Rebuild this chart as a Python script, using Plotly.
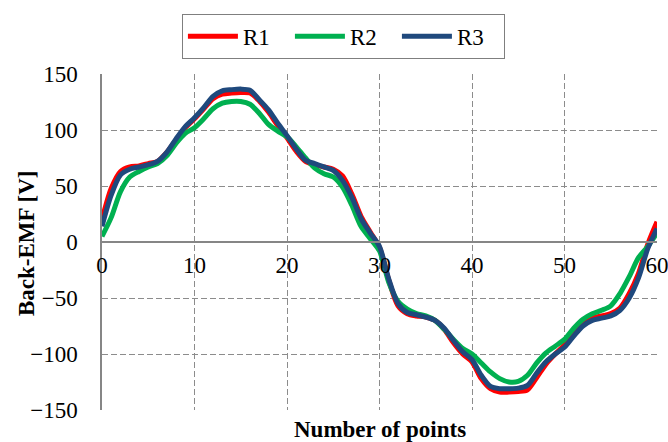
import plotly.graph_objects as go

x_points = list(range(0, 61))

r1 = [20, 48, 63, 67, 68, 70, 72, 80, 91, 102, 110, 119, 128, 132, 133, 133.5, 133, 126, 116, 104,
      93, 81, 72, 69, 67, 65, 59, 43, 23, 9, -5, -34, -57, -64, -66, -67, -70, -78, -90, -100,
      -107, -122, -131, -134, -134, -133.5, -132, -121, -109, -100, -92, -82, -73, -68, -66, -64, -59, -46, -28, -2,
      18]
r2 = [5, 22, 45, 58, 63, 67, 70, 77, 88, 97, 102, 110, 119, 124, 125.5, 125.5, 123, 115, 105, 99,
      94, 85, 75, 66, 61, 58, 49, 33, 14, 3, -8, -36, -53, -60, -64, -66, -70, -78, -87, -95,
      -100, -108, -116, -122, -125, -124.5, -119, -108, -99, -93, -87, -77, -69, -64, -61, -57, -46, -31, -14, -4,
      8]
r3 = [14, 42, 60, 65, 67, 69, 72, 80, 92, 103, 111, 120, 130, 135, 136, 136.5, 135.5, 127, 118, 106,
      95, 83, 73, 70, 67, 64, 55, 40, 21, 8, -4, -33, -55, -63, -65, -67, -70, -77, -88, -98,
      -105, -119, -129, -131, -131, -130.5, -128, -117, -107, -100, -94, -84, -75, -70, -68, -66, -61, -50, -32, -6,
      12]

series = [("R1", r1, "#FF0000"), ("R2", r2, "#00B050"), ("R3", r3, "#1F497D")]

x_ticks = [0, 10, 20, 30, 40, 50, 60]
y_ticks = [-150, -100, -50, 0, 50, 100, 150]

FONT = "Liberation Serif, Times New Roman, serif"
FS = 23

fig = go.Figure()
for name, vals, col in series:
    fig.add_trace(go.Scatter(x=x_points, y=vals, name=name, mode="lines",
                             line=dict(color=col, width=5, shape="spline", smoothing=0.8)))

fig.update_layout(
    width=668, height=442,
    margin=dict(l=102, r=11, t=74, b=32, autoexpand=False),
    paper_bgcolor="white", plot_bgcolor="white",
    font=dict(family=FONT, size=FS, color="black"),
    showlegend=True,
    legend=dict(orientation="h", x=0.144, y=1.179, xanchor="left", yanchor="top",
                bordercolor="#7F7F7F", borderwidth=1, bgcolor="white",
                font=dict(family=FONT, size=FS, color="black"),
                itemwidth=50,
                entrywidth=42, entrywidthmode="pixels"),
    xaxis=dict(range=[0, 60], tickvals=x_ticks, anchor="free", position=0.5,
               showline=True, linecolor="#868686", linewidth=1.5,
               showgrid=True, gridcolor="#8C8C8C", griddash="6px,3px", gridwidth=1.2,
               zeroline=False, ticks="", ticklabelstandoff=3,
               ticklabeloverflow="allow", automargin=False,
               tickfont=dict(family=FONT, size=FS, color="black")),
    yaxis=dict(range=[-150, 150], tickvals=y_ticks,
               showline=True, linecolor="#868686", linewidth=1.5,
               showgrid=True, gridcolor="#8C8C8C", griddash="6px,3px", gridwidth=1.2,
               zeroline=False, ticks="", ticklabelstandoff=18, automargin=False,
               tickfont=dict(family=FONT, size=FS, color="black")),
    annotations=[
        dict(text="<b>Number of points</b>", xref="paper", yref="paper",
             x=0.5, y=-0.058, xanchor="center", yanchor="middle", showarrow=False,
             font=dict(family=FONT, size=FS, color="black")),
        dict(text="<b>Back-EMF [V]</b>", xref="paper", yref="paper", textangle=-90,
             x=-0.137, y=0.497, xanchor="center", yanchor="middle", showarrow=False,
             font=dict(family=FONT, size=FS, color="black")),
    ],
)

fig.write_html("out.html")
